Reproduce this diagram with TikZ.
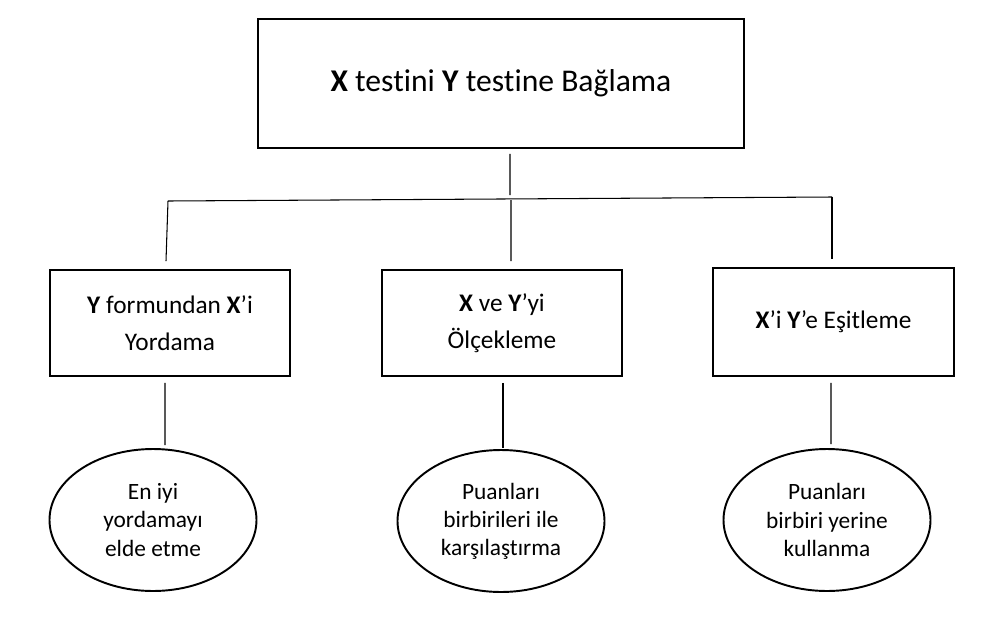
\documentclass[tikz,border=0pt]{standalone}
\usepackage{fontspec}
\setmainfont{Carlito}[Ligatures={NoCommon,NoRequired,NoContextual}]
\usetikzlibrary{positioning, shapes.geometric}

\begin{document}
\begin{tikzpicture}[
	box/.style={draw, line width=1.1pt, align=center},
	oval/.style={draw, ellipse, line width=1.1pt, align=center, minimum width=4.14cm, minimum height=2.84cm, inner sep=0pt, font=\fontsize{13.3}{16}\selectfont},
	link/.style={line width=0.6pt}]

			\useasboundingbox (0,0) rectangle (19.74,-12.32);
			% Top box
			\node[box, minimum width=9.72cm, minimum height=2.58cm, font=\fontsize{18}{21}\selectfont] (linking) at (10.02,-1.67) {\textbf{X} testini \textbf{Y} testine Bağlama};
			% Boxes middle row
			\node[box, minimum width=4.8cm, minimum height=2.12cm, font=\fontsize{14.4}{21}\selectfont] (predict) at (3.4,-6.46) {\textbf{Y} formundan \textbf{X}’i\\Yordama};
			\node[box, minimum width=4.8cm, minimum height=2.12cm, font=\fontsize{14.4}{21}\selectfont] (scale) at (10.04,-6.46) {\textbf{X} ve \textbf{Y}’yi\\Ölçekleme};
			\node[box, minimum width=4.82cm, minimum height=2.16cm, font=\fontsize{14.4}{21}\selectfont] (equate) at (16.67,-6.44) {\textbf{X}’i \textbf{Y}’e Eşitleme};
			% Ovals bottom row
			\node[oval] (best) at (3.06,-10.4) {En iyi\\yordamayı\\elde etme};
			\node[oval] (compare) at (10.02,-10.42) {Puanları\\birbirileri ile\\karşılaştırma};
			\node[oval] (replace) at (16.54,-10.4) {Puanları\\birbiri yerine\\kullanma};
			% Bus coordinates
			\coordinate (bus-top) at (10.2,-3.9);
			\coordinate (bus-l) at (3.36,-4.02);
			\coordinate (bus-m) at (10.22,-4.0);
			\coordinate (bus-r) at (16.64,-3.94);
			% Lines upper part
			\draw[link] ([xshift=0.18cm, yshift=-0.1cm]linking.south) -- (bus-top);
			\draw[link] (bus-l) -- (bus-r);
			\draw[link] (bus-l) -- ([xshift=-0.08cm, yshift=0.16cm]predict.north);
			\draw[link] (bus-m) -- ([xshift=0.18cm, yshift=0.16cm]scale.north);
			\draw[link] (bus-r) -- ([xshift=-0.03cm, yshift=0.16cm]equate.north);
			% Lines lower part
			\draw[link] ([xshift=-0.1cm, yshift=-0.12cm]predict.south) -- ([xshift=0.24cm, yshift=0.06cm]best.north);
			\draw[link] ([xshift=0.02cm, yshift=-0.12cm]scale.south) -- ([xshift=0.04cm, yshift=0.02cm]compare.north);
			\draw[link] ([xshift=-0.05cm, yshift=-0.12cm]equate.south) -- ([xshift=0.08cm, yshift=0.08cm]replace.north);
		\end{tikzpicture}
\end{document}
